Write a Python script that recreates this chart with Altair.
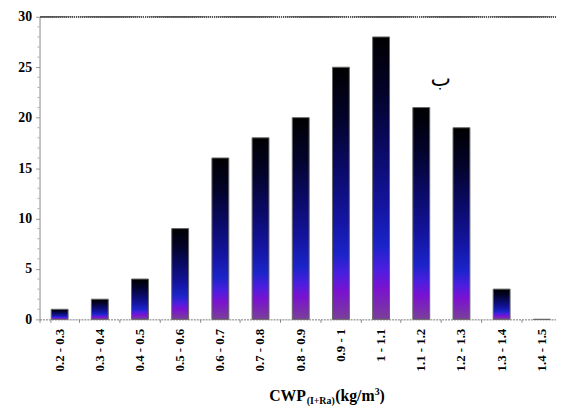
import altair as alt
import pandas as pd

categories = ["0.2 - 0.3", "0.3 - 0.4", "0.4 - 0.5", "0.5 - 0.6", "0.6 - 0.7",
              "0.7 - 0.8", "0.8 - 0.9", "0.9 - 1", "1 - 1.1", "1.1 - 1.2",
              "1.2 - 1.3", "1.3 - 1.4", "1.4 - 1.5"]
values = [1, 2, 4, 9, 16, 18, 20, 25, 28, 21, 19, 3, 0]
y_ticks = [0, 5, 10, 15, 20, 25, 30]
minor_ticks = [v for v in range(0, 31) if v % 5 != 0]

df = pd.DataFrame({"cat": categories, "val": values})

FONT = "Liberation Serif"
grad = alt.Gradient(
    gradient="linear", x1=0, y1=0, x2=0, y2=1,
    stops=[
        alt.GradientStop(offset=0, color="#000000"),
        alt.GradientStop(offset=0.2, color="#03032a"),
        alt.GradientStop(offset=0.4, color="#0a0a66"),
        alt.GradientStop(offset=0.6, color="#1414a0"),
        alt.GradientStop(offset=0.74, color="#1a24c8"),
        alt.GradientStop(offset=0.82, color="#4a1ee0"),
        alt.GradientStop(offset=0.89, color="#7a12d0"),
        alt.GradientStop(offset=1, color="#7a4098"),
    ],
)

x_scale = alt.Scale(domain=categories, range=[0, 530], paddingInner=0.58, paddingOuter=0.29)
y_scale = alt.Scale(domain=[0, 30], nice=False)

bars = alt.Chart(df).mark_bar(fill=grad, stroke="#666666", strokeWidth=1).encode(
    x=alt.X("cat:N", scale=x_scale, sort=categories,
            axis=alt.Axis(title=None, labelAngle=-90, labelFont=FONT, labelFontWeight="bold",
                          labelFontSize=13, labelColor="black", labelPadding=6,
                          tickSize=3, tickColor="#888888", bandPosition=-0.69, tickExtra=True,
                          domainColor="#777777", domainDash=[2, 1], labelOverlap=False)),
    y=alt.Y("val:Q", scale=y_scale,
            axis=alt.Axis(title=None, values=y_ticks, labelFont=FONT, labelFontWeight="bold",
                          labelFontSize=14, labelColor="black", labelPadding=4,
                          labelOverlap=False, labelFlush=False, tickSize=4,
                          tickColor="#999999", domainColor="#888888", grid=False)),
)

minor = alt.Chart(pd.DataFrame({"m": minor_ticks})).mark_rule(
    color="#aaaaaa", strokeWidth=1).encode(
    y=alt.Y("m:Q", scale=y_scale), x=alt.value(-2), x2=alt.value(0))

top_rule = alt.Chart(df).mark_rule(color="#555555", strokeDash=[1, 1], strokeWidth=1).encode(
    y=alt.datum(30, scale=y_scale)
)

def label(text, x, y, size):
    return alt.Chart(pd.DataFrame({"t": [text]})).mark_text(
        font=FONT, fontWeight="bold", fontSize=size, align="left", baseline="alphabetic",
        color="black").encode(text="t:N", x=alt.value(x), y=alt.value(y))

title_parts = (label("CWP", 233, 390, 16) + label("(I+Ra)", 271, 393, 10) +
               label("(kg/m", 300, 390, 16) + label("3", 340, 384, 10) + label(")", 345, 390, 16))

ba = alt.Chart(pd.DataFrame({"t": ["ب"]})).mark_text(
    font="DejaVu Sans", fontSize=22, color="black").encode(
    text="t:N", x=alt.value(407), y=alt.value(63))

chart = alt.layer(bars, minor, top_rule, title_parts, ba).properties(
    width=524, height=307,
    autosize=alt.AutoSizeParams(type="none"),
    padding={"left": 32, "top": 6, "right": 0, "bottom": 87},
).configure_view(stroke=None)

chart.save("out.html", embed_options={"renderer": "svg", "actions": False})
